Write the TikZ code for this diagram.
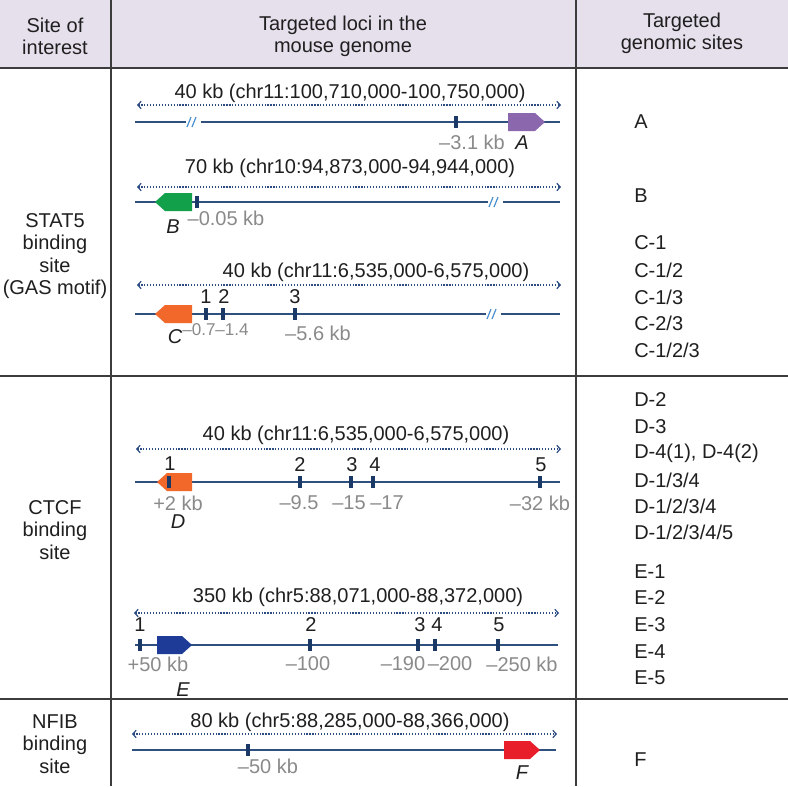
\documentclass[tikz,border=0pt]{standalone}
\usepackage{fontspec}
\setmainfont{Liberation Sans}
\usetikzlibrary{arrows.meta}
\definecolor{hdr}{HTML}{E6E0ED}
\definecolor{tablec}{HTML}{3C3C3C}
\definecolor{lineblue}{HTML}{2F4F7F}
\definecolor{tickblue}{HTML}{1B3966}
\definecolor{dotblue}{HTML}{2B4B82}
\definecolor{breakblue}{HTML}{4A90D0}
\definecolor{grayc}{HTML}{8A8A8A}
\definecolor{geneA}{HTML}{8B67AE}
\definecolor{geneB}{HTML}{13A04B}
\definecolor{geneC}{HTML}{F2672A}
\definecolor{geneE}{HTML}{1E3C97}
\definecolor{geneF}{HTML}{E81F2B}
\newcommand\geneR[4]{\fill[#4] (#1,#3-9) -- (#2-10,#3-9) -- (#2,#3) -- (#2-10,#3+9) -- (#1,#3+9) -- cycle;}
\newcommand\geneL[4]{\fill[#4] (#1,#3) -- (#1+10,#3-9) -- (#2,#3-9) -- (#2,#3+9) -- (#1+10,#3+9) -- cycle;}
\newcommand\tickm[2]{\draw[tickmark] (#1,#2-6) -- (#1,#2+6);}
\newcommand\brkm[2]{\draw[breakline] (#1-6,#2+5) -- (#1-2,#2-5); \draw[breakline] (#1-1,#2+5) -- (#1+3,#2-5);}
\begin{document}
\begin{tikzpicture}[x=0.75pt,y=-0.75pt,
  txt/.style={font=\fontsize{15}{16.7}\selectfont, inner sep=0pt, text=black!88},
  gtxt/.style={font=\fontsize{15}{16.7}\selectfont, inner sep=0pt, text=grayc},
  sgtxt/.style={font=\fontsize{12.8}{14}\selectfont, inner sep=0pt, text=grayc},
  itxt/.style={font=\fontsize{15}{16.7}\selectfont\itshape, inner sep=0pt, text=black!88},
  rtxt/.style={txt, anchor=west},
  genome/.style={draw=lineblue, line width=1.2pt},
  tickmark/.style={draw=tickblue, line width=3pt},
  breakline/.style={draw=breakblue, line width=0.9pt},
  spanline/.style={draw=dotblue, line width=0.9pt, dash pattern=on 0.9pt off 1.3pt,
    {Straight Barb[length=2.5pt,width=5.5pt,line width=0.9pt]}-{Straight Barb[length=2.5pt,width=5.5pt,line width=0.9pt]}},
  tableline/.style={draw=tablec, line width=1.1pt}]
\useasboundingbox (0,0) rectangle (788,786);
\fill[white] (0,0) rectangle (788,786);
% header
\fill[hdr] (0,0) rectangle (788,68);
\draw[tableline, line width=1.5pt] (0,68) -- (788,68);
\draw[tableline] (0,376) -- (788,376);
\draw[tableline] (0,699) -- (788,699);
\draw[tableline] (111,0) -- (111,786);
\draw[tableline] (576,0) -- (576,786);
\node[txt, align=center] (h1) at (55,36) {Site of\\interest};
\node[txt, align=center] (h2) at (343,36) {Targeted loci in the\\mouse genome};
\node[txt, align=center] (h3) at (682,33) {Targeted\\genomic sites};
% left column
\node[txt, align=center] (s1) at (55,256) {STAT5\\binding\\site\\(GAS motif)};
\node[txt, align=center] (s2) at (55,530) {CTCF\\binding\\site};
\node[txt, align=center] (s3) at (55,744) {NFIB\\binding\\site};
% right column
\node[rtxt] (rA) at (634,122) {A};
\node[rtxt] (rB) at (634,196) {B};
\node[rtxt] (rC1) at (634,243) {C-1};
\node[rtxt] (rC2) at (634,270) {C-1/2};
\node[rtxt] (rC3) at (634,297) {C-1/3};
\node[rtxt] (rC4) at (634,323) {C-2/3};
\node[rtxt] (rC5) at (634,350) {C-1/2/3};
\node[rtxt] (rD1) at (634,400) {D-2};
\node[rtxt] (rD2) at (634,427) {D-3};
\node[rtxt] (rD3) at (634,453) {D-4(1), D-4(2)};
\node[rtxt] (rD4) at (634,480) {D-1/3/4};
\node[rtxt] (rD5) at (634,506) {D-1/2/3/4};
\node[rtxt] (rD6) at (634,532) {D-1/2/3/4/5};
\node[rtxt] (rE1) at (634,572) {E-1};
\node[rtxt] (rE2) at (634,598) {E-2};
\node[rtxt] (rE3) at (634,625) {E-3};
\node[rtxt] (rE4) at (634,652) {E-4};
\node[rtxt] (rE5) at (634,678) {E-5};
\node[rtxt] (rF) at (634,760) {F};
% ---------- locus A
\node[txt] (la) at (350,93) {40 kb (chr11:100,710,000-100,750,000)};
\coordinate (a1) at (137,105); \coordinate (a2) at (561,105);
\draw[spanline] (a1) -- (a2);
\draw[genome] (135,122) -- (186,122);
\draw[genome] (201,122) -- (560,122);
\brkm{193}{122}
\geneR{508}{545}{122}{geneA}
\tickm{456}{122}
\node[gtxt] (ka) at (472,142) {–3.1 kb};
\node[itxt] (ga) at (522,143) {A};
% ---------- locus B
\node[txt] (lb) at (350,168) {70 kb (chr10:94,873,000-94,944,000)};
\coordinate (b1) at (137,187); \coordinate (b2) at (561,187);
\draw[spanline] (b1) -- (b2);
\draw[genome] (135,202) -- (488,202);
\draw[genome] (503,202) -- (560,202);
\brkm{495}{202}
\geneL{155}{192}{202}{geneB}
\tickm{197}{202}
\node[gtxt] (kb) at (226,218) {–0.05 kb};
\node[itxt] (gb) at (173,227) {B};
% ---------- locus C
\node[txt] (lc) at (376,272) {40 kb (chr11:6,535,000-6,575,000)};
\coordinate (c1) at (137,285); \coordinate (c2) at (561,285);
\draw[spanline] (c1) -- (c2);
\draw[genome] (135,314) -- (486,314);
\draw[genome] (501,314) -- (560,314);
\brkm{493}{314}
\geneL{155}{192}{314}{geneC}
\tickm{206}{314}
\tickm{223}{314}
\tickm{295}{314}
\node[txt] (nc1) at (206,297) {1};
\node[txt] (nc2) at (224,297) {2};
\node[txt] (nc3) at (295,297) {3};
\node[sgtxt] (kc1) at (199,330) {–0.7};
\node[sgtxt] (kc2) at (232,330) {–1.4};
\node[gtxt] (kc3) at (318,333) {–5.6 kb};
\node[itxt] (gc) at (175,337) {C};
% ---------- locus D
\node[txt] (ld) at (356,435) {40 kb (chr11:6,535,000-6,575,000)};
\coordinate (d1) at (136,449); \coordinate (d2) at (561,449);
\draw[spanline] (d1) -- (d2);
\draw[genome] (135,482) -- (560,482);
\geneL{157}{192}{482}{geneC}
\tickm{169}{482}
\tickm{300}{482}
\tickm{351}{482}
\tickm{373}{482}
\tickm{540}{482}
\node[txt] (nd1) at (170,464) {1};
\node[txt] (nd2) at (300,465) {2};
\node[txt] (nd3) at (352,465) {3};
\node[txt] (nd4) at (375,465) {4};
\node[txt] (nd5) at (541,465) {5};
\node[gtxt] (kd1) at (178,503) {+2 kb};
\node[gtxt] (kd2) at (299,503) {–9.5};
\node[gtxt] (kd3) at (349,503) {–15};
\node[gtxt] (kd4) at (387,503) {–17};
\node[gtxt] (kd5) at (540,503) {–32 kb};
\node[itxt] (gd) at (178,522) {D};
% ---------- locus E
\node[txt] (le) at (358,597) {350 kb (chr5:88,071,000-88,372,000)};
\coordinate (e1) at (134,613); \coordinate (e2) at (559,613);
\draw[spanline] (e1) -- (e2);
\draw[genome] (135,645) -- (558,645);
\geneR{157}{192}{645}{geneE}
\tickm{140}{645}
\tickm{310}{645}
\tickm{418}{645}
\tickm{435}{645}
\tickm{498}{645}
\node[txt] (ne1) at (140,625) {1};
\node[txt] (ne2) at (311,625) {2};
\node[txt] (ne3) at (420,625) {3};
\node[txt] (ne4) at (437,625) {4};
\node[txt] (ne5) at (499,625) {5};
\node[gtxt] (ke1) at (158,664) {+50 kb};
\node[gtxt] (ke2) at (308,664) {–100};
\node[gtxt] (ke3) at (403,664) {–190};
\node[gtxt] (ke4) at (450,664) {–200};
\node[gtxt] (ke5) at (522,664) {–250 kb};
\node[itxt] (ge) at (183,690) {E};
% ---------- locus F
\node[txt] (lf) at (350,722) {80 kb (chr5:88,285,000-88,366,000)};
\coordinate (f1) at (132,734); \coordinate (f2) at (557,734);
\draw[spanline] (f1) -- (f2);
\draw[genome] (132,750) -- (556,750);
\geneR{504}{540}{750}{geneF}
\tickm{248}{750}
\node[gtxt] (kf) at (268,766) {–50 kb};
\node[itxt] (gf) at (522,773) {F};
\end{tikzpicture}
\end{document}
